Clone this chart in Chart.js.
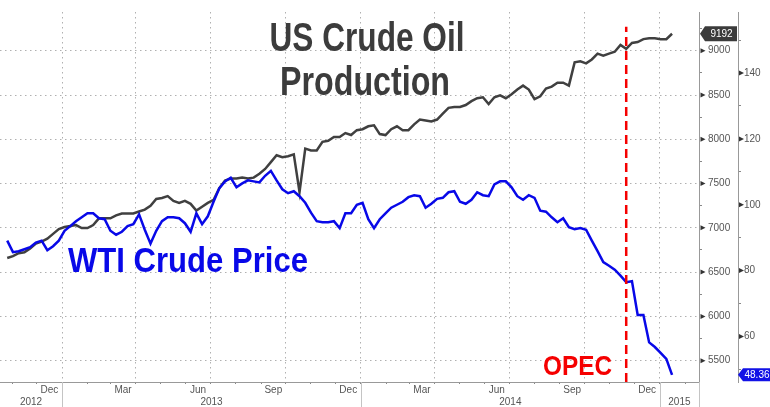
<!DOCTYPE html>
<html>
<head>
<meta charset="utf-8">
<script src="https://cdn.jsdelivr.net/npm/chart.js@4.4.1/dist/chart.umd.min.js"></script>
<style>
  html, body { margin: 0; padding: 0; background: #fff; }
  #wrap { width: 770px; height: 407px; }
</style>
</head>
<body>
<div id="wrap"><canvas id="oilChart" width="770" height="407"></canvas></div>
<script>
// weekly readings, first week ends 2012-10-26, last week 2015-01-16
var firstWeek = [2012, 9, 26];
var production = [
  6659, 6681, 6713, 6724, 6768, 6823, 6845, 6878, 6932, 6987,
  7009, 7020, 7031, 6998, 6998, 7031, 7107, 7107, 7107, 7140,
  7162, 7162, 7162, 7184, 7206, 7250, 7326, 7337, 7359, 7304,
  7282, 7304, 7271, 7195, 7239, 7282, 7315, 7447, 7534, 7556,
  7556, 7567, 7556, 7567, 7611, 7665, 7742, 7819, 7797, 7808,
  7829, 7403, 7895, 7873, 7873, 7972, 7983, 8026, 8026, 8070,
  8048, 8103, 8114, 8147, 8158, 8059, 8048, 8114, 8147, 8103,
  8103, 8169, 8223, 8212, 8201, 8223, 8289, 8355, 8365, 8365,
  8387, 8431, 8464, 8475, 8398, 8475, 8497, 8464, 8508, 8562,
  8606, 8562, 8453, 8486, 8573, 8595, 8639, 8639, 8606, 8869,
  8880, 8858, 8902, 8967, 8945, 8967, 8989, 9066, 9022, 9088,
  9098, 9131, 9142, 9142, 9131, 9131, 9192
];
var wtiPrice = [
  89.1, 85.6, 85.9, 86.5, 87.1, 88.5, 89.1, 86.2, 87.4, 89.1,
  92.1, 93.5, 95.0, 96.2, 97.4, 97.4, 95.9, 95.6, 92.1, 90.9,
  91.8, 93.5, 94.1, 97.1, 92.4, 88.2, 92.1, 95.0, 96.2, 96.2,
  95.9, 94.4, 91.8, 97.4, 94.1, 96.5, 100.9, 105.0, 107.1, 108.2,
  105.3, 106.5, 107.4, 107.1, 106.8, 108.8, 110.3, 107.4, 104.7, 103.5,
  104.1, 102.6, 100.6, 97.6, 95.0, 94.7, 94.7, 95.0, 92.9, 97.4,
  97.4, 100.0, 100.6, 95.6, 92.9, 95.6, 97.4, 99.1, 100.0, 100.9,
  102.3, 102.9, 102.6, 99.1, 100.3, 101.8, 102.1, 103.8, 104.1, 100.9,
  100.3, 101.5, 103.8, 102.9, 102.6, 106.2, 107.1, 107.1, 105.3, 102.6,
  101.5, 102.9, 102.1, 98.2, 97.9, 96.2, 94.7, 95.9, 93.2, 92.6,
  92.9, 92.4, 89.1, 85.9, 82.6, 81.5, 80.3, 78.5, 76.5, 76.8,
  66.5, 66.5, 58.2, 56.8, 55.0, 53.2, 48.36
];
var opecWeek = [2014, 10, 21];
var opecRange = [5259, 9270];

var monthNames = ['Jan', 'Feb', 'Mar', 'Apr', 'May', 'Jun', 'Jul', 'Aug', 'Sep', 'Oct', 'Nov', 'Dec'];
var labelMonths = ['Dec', 'Mar', 'Jun', 'Sep'];
var yearLabels = ['2012', '2013', '2014', '2015'];
var prodTicks = [5500, 6000, 6500, 7000, 7500, 8000, 8500, 9000];
var prodMinor = [5750, 6250, 6750, 7250, 7750, 8250, 8750, 9250];
var priceTicks = [60, 80, 100, 120, 140];
var priceMinor = [50, 70, 90, 110, 130, 150];

var xMin = -1.26, xMax = 120.7;

function weekOf(y, m, d) {
  return (Date.UTC(y, m, d) - Date.UTC(firstWeek[0], firstWeek[1], firstWeek[2])) / 6048e5;
}

function buildMonthTicks() {
  var t = [];
  for (var y = 2012; y <= 2015; y++) {
    for (var m = 0; m < 12; m++) {
      var w = weekOf(y, m, 1);
      if (w >= xMin && w <= xMax) t.push({value: w, edge: true, quarter: m % 3 === 0});
      var mid = (w + weekOf(y, m + 1, 1)) / 2;
      if (labelMonths.indexOf(monthNames[m]) >= 0 && mid >= xMin && mid <= xMax) {
        t.push({value: mid, edge: false, name: monthNames[m]});
      }
    }
  }
  t.sort(function (a, b) { return a.value - b.value; });
  return t;
}
var monthTicks = buildMonthTicks();

function tri(ctx, x, y) {
  ctx.beginPath();
  ctx.moveTo(x, y - 2.5);
  ctx.lineTo(x + 5, y);
  ctx.lineTo(x, y + 2.5);
  ctx.closePath();
  ctx.fill();
}

function badge(ctx, x, y, w, h, fill, text) {
  ctx.fillStyle = fill;
  ctx.beginPath();
  ctx.moveTo(x, y);
  ctx.lineTo(x + 5, y - h / 2);
  ctx.lineTo(x + w, y - h / 2);
  ctx.lineTo(x + w, y + h / 2);
  ctx.lineTo(x + 5, y + h / 2);
  ctx.closePath();
  ctx.fill();
  ctx.fillStyle = '#fff';
  ctx.font = '10px "Liberation Sans"';
  ctx.textAlign = 'center';
  ctx.textBaseline = 'middle';
  ctx.fillText(text, x + 3 + w / 2, y + 0.5);
}

function fitText(ctx, text, x, base, width, font, color, align) {
  ctx.font = font;
  var sx = width / ctx.measureText(text).width;
  ctx.save();
  ctx.translate(x, base);
  ctx.scale(sx, 1);
  ctx.fillStyle = color;
  ctx.textAlign = align;
  ctx.textBaseline = 'alphabetic';
  ctx.fillText(text, 0, 0);
  ctx.restore();
}

var decor = {
  id: 'decor',
  afterDraw: function (chart) {
    var ctx = chart.ctx;
    var xs = chart.scales.x, ys = chart.scales.y, ps = chart.scales.y1;
    var area = chart.chartArea;
    ctx.save();
    // tick triangles
    ctx.fillStyle = '#333';
    prodTicks.forEach(function (v) { tri(ctx, ys.left + 1.5, ys.getPixelForValue(v)); });
    priceTicks.forEach(function (v) { tri(ctx, ps.left + 1, ps.getPixelForValue(v)); });

    // year row
    ctx.strokeStyle = '#c4c4c4';
    ctx.lineWidth = 1;
    ctx.font = '10px "Liberation Sans"';
    ctx.fillStyle = '#555';
    ctx.textAlign = 'center';
    ctx.textBaseline = 'middle';
    yearLabels.forEach(function (lab) {
      var yr = parseInt(lab, 10);
      var a = Math.max(xMin, weekOf(yr, 0, 1));
      var b = Math.min(xMax, weekOf(yr + 1, 0, 1));
      var pa = xs.getPixelForValue(a), pb = xs.getPixelForValue(b);
      ctx.fillText(lab, (pa + pb) / 2, 402);
      if (weekOf(yr, 0, 1) > xMin) {
        var px = Math.round(pa) + 0.5;
        ctx.beginPath();
        ctx.moveTo(px, area.bottom);
        ctx.lineTo(px, chart.height);
        ctx.stroke();
      }
    });
    ctx.beginPath();
    ctx.moveTo(area.right + 0.5, area.bottom);
    ctx.lineTo(area.right + 0.5, chart.height);
    ctx.stroke();

    // last value badges
    var lastP = production[production.length - 1];
    var lastW = wtiPrice[wtiPrice.length - 1];
    badge(ctx, ys.left + 1, ys.getPixelForValue(lastP), ys.width - 2, 15, '#3b3b3b', String(lastP));
    badge(ctx, ps.left, ps.getPixelForValue(lastW), ps.width, 13, 'rgb(18,18,230)', lastW.toFixed(2));

    // annotations
    fitText(ctx, 'US Crude Oil', 367, 51, 195, 'bold 40px "Liberation Sans"', '#3c3c3c', 'center');
    fitText(ctx, 'Production', 365, 95, 170, 'bold 40px "Liberation Sans"', '#3c3c3c', 'center');
    fitText(ctx, 'WTI Crude Price', 68, 272, 240, 'bold 35px "Liberation Sans"', 'rgb(8,8,232)', 'left');
    fitText(ctx, 'OPEC', 543, 375, 69, 'bold 28px "Liberation Sans"', 'rgb(245,0,0)', 'left');
    ctx.restore();
  }
};

var opecX = weekOf(opecWeek[0], opecWeek[1], opecWeek[2]);

new Chart(document.getElementById('oilChart'), {
  type: 'line',
  data: {
    datasets: [
      {
        label: 'OPEC',
        data: [{x: opecX, y: opecRange[0]}, {x: opecX, y: opecRange[1]}],
        borderColor: 'rgb(245,0,0)',
        borderWidth: 2.5,
        borderDash: [9, 5],
        pointRadius: 0,
        yAxisID: 'y'
      },
      {
        label: 'WTI Crude Price',
        data: wtiPrice.map(function (v, i) { return {x: i, y: v}; }),
        borderColor: 'rgb(8,8,232)',
        borderWidth: 2.5,
        pointRadius: 0,
        tension: 0,
        yAxisID: 'y1'
      },
      {
        label: 'US Crude Oil Production',
        data: production.map(function (v, i) { return {x: i, y: v}; }),
        borderColor: '#404040',
        borderWidth: 2.5,
        pointRadius: 0,
        tension: 0,
        yAxisID: 'y'
      }
    ]
  },
  options: {
    responsive: false,
    animation: false,
    devicePixelRatio: 1,
    layout: { padding: 0 },
    plugins: { legend: { display: false }, tooltip: { enabled: false }, title: { display: false } },
    scales: {
      x: {
        type: 'linear',
        min: xMin,
        max: xMax,
        bounds: 'data',
        afterBuildTicks: function (scale) { scale.ticks = monthTicks.map(function (t) { return Object.assign({}, t); }); },
        afterFit: function (scale) { scale.height = 25; },
        ticks: {
          autoSkip: false,
          maxRotation: 0,
          padding: 0,
          color: '#555',
          font: { family: 'Liberation Sans', size: 10 },
          callback: function (v, i, ticks) { return ticks[i].name || ''; }
        },
        grid: {
          drawTicks: true,
          tickLength: 2,
          lineWidth: 1,
          color: function (c) { return c.tick && c.tick.quarter ? '#b0b0b0' : 'rgba(0,0,0,0)'; },
          tickColor: function (c) { return c.tick && c.tick.edge ? '#888' : 'rgba(0,0,0,0)'; }
        },
        border: { display: true, color: '#999', width: 1, dash: [1.5, 3.5] }
      },
      y: {
        type: 'linear',
        position: 'right',
        weight: 0,
        min: 5259,
        max: 9437.5,
        afterBuildTicks: function (scale) {
          scale.ticks = prodTicks.concat(prodMinor).sort(function (a, b) { return a - b; })
            .map(function (v) { return {value: v, major: prodTicks.indexOf(v) >= 0}; });
        },
        afterFit: function (scale) { scale.width = 39; },
        ticks: {
          padding: 6,
          color: '#555',
          font: { family: 'Liberation Sans', size: 10 },
          callback: function (v) { return prodTicks.indexOf(v) >= 0 ? String(v) : ''; }
        },
        grid: {
          drawTicks: true,
          tickLength: 3,
          color: function (c) { return c.tick && prodTicks.indexOf(c.tick.value) >= 0 ? '#b0b0b0' : 'rgba(0,0,0,0)'; },
          tickColor: function (c) { return c.tick && prodTicks.indexOf(c.tick.value) < 0 ? '#888' : 'rgba(0,0,0,0)'; }
        },
        border: { display: true, color: '#999', width: 1, dash: [1.5, 3.5] }
      },
      y1: {
        type: 'linear',
        position: 'right',
        weight: 1,
        min: 46.18,
        max: 158.53,
        afterBuildTicks: function (scale) {
          scale.ticks = priceTicks.concat(priceMinor).sort(function (a, b) { return a - b; })
            .map(function (v) { return {value: v}; });
        },
        afterFit: function (scale) { scale.width = 32; },
        ticks: {
          padding: 3,
          color: '#555',
          font: { family: 'Liberation Sans', size: 10 },
          callback: function (v) { return priceTicks.indexOf(v) >= 0 ? String(v) : ''; }
        },
        grid: {
          drawOnChartArea: false,
          drawTicks: true,
          tickLength: 3,
          tickColor: function (c) { return c.tick && priceTicks.indexOf(c.tick.value) < 0 ? '#888' : 'rgba(0,0,0,0)'; }
        },
        border: { display: true, color: '#999', width: 1 }
      }
    }
  },
  plugins: [decor]
});
</script>
</body>
</html>
